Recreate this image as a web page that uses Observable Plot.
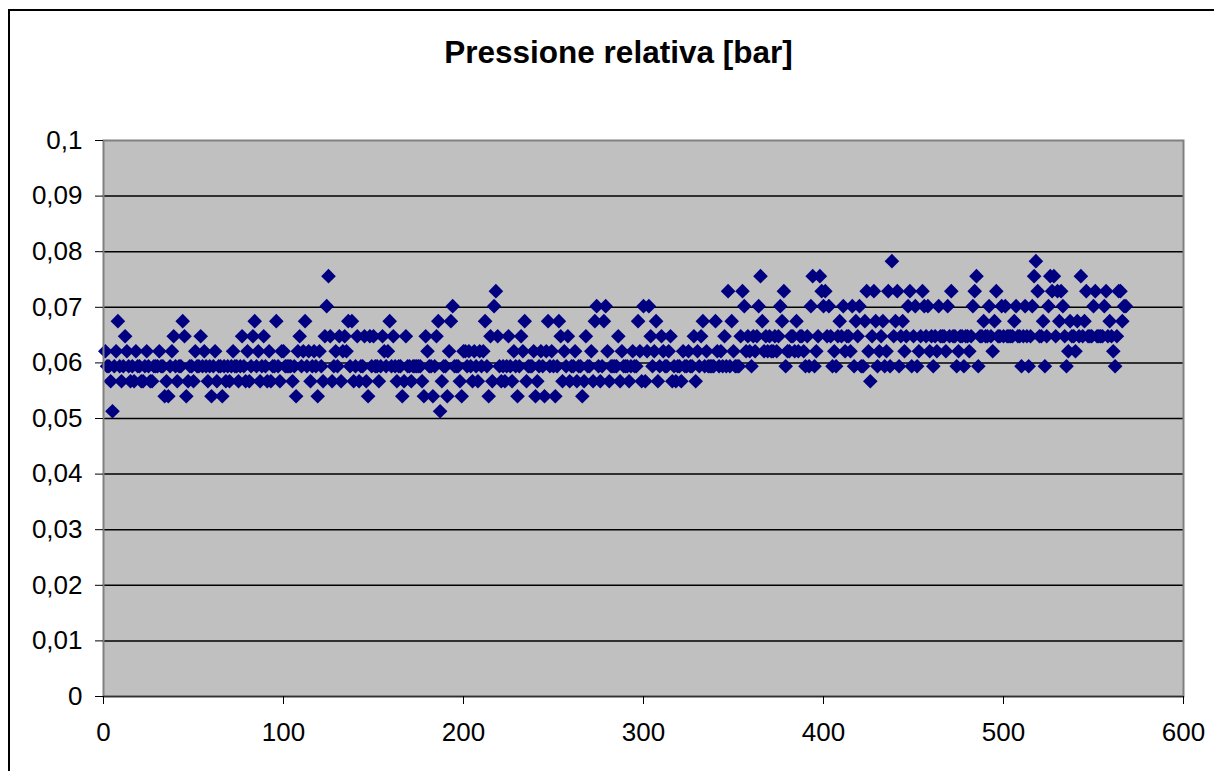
<!DOCTYPE html>
<html>
<head>
<meta charset="utf-8">
<script src="https://cdn.jsdelivr.net/npm/d3@7"></script>
<script src="https://cdn.jsdelivr.net/npm/@observablehq/plot@0.6"></script>
<style>
  html, body { margin: 0; padding: 0; background: #fff; }
  #chart { position: relative; width: 1214px; height: 771px; overflow: hidden;
           font-family: "Liberation Sans", Arial, sans-serif; }
  #border { position: absolute; left: 8px; top: 9px; width: 1300px; height: 900px;
            border: 2px solid #000; box-sizing: border-box; }
  #title { position: absolute; left: 0; top: 37px; width: 1237px; text-align: center;
           font-size: 31.5px; line-height: 31.5px; font-weight: bold; color: #000; }
  #plot { position: absolute; left: 0; top: 100px; }
</style>
</head>
<body>
<div id="chart">
  <div id="border"></div>
  <div id="title">Pressione relativa [bar]</div>
  <div id="plot"></div>
</div>
<script>
// Relative pressure readings [bar], one per sample (samples 1..568)
const pressure = [
  0.0621, 0.0594, 0.0594, 0.0567, 0.0513, 0.0594, 0.0621, 0.0675, 0.0594, 0.0567,
  0.0594, 0.0648, 0.0621, 0.0594, 0.0567, 0.0594, 0.0567, 0.0621, 0.0594, 0.0594,
  0.0567, 0.0567, 0.0594, 0.0621, 0.0594, 0.0567, 0.0567, 0.0594, 0.0594, 0.0594,
  0.0621, 0.0594, 0.0594, 0.054, 0.0567, 0.054, 0.0594, 0.0621, 0.0648, 0.0594,
  0.0567, 0.0594, 0.0594, 0.0675, 0.0648, 0.054, 0.0567, 0.0594, 0.0594, 0.0567,
  0.0621, 0.0594, 0.0594, 0.0648, 0.0594, 0.0621, 0.0594, 0.0567, 0.0594, 0.054,
  0.0594, 0.0621, 0.0567, 0.0594, 0.0594, 0.054, 0.0594, 0.0567, 0.0594, 0.0567,
  0.0594, 0.0621, 0.0594, 0.0594, 0.0567, 0.0594, 0.0648, 0.0594, 0.0567, 0.0621,
  0.0567, 0.0594, 0.0648, 0.0675, 0.0594, 0.0621, 0.0567, 0.0594, 0.0648, 0.0594,
  0.0567, 0.0621, 0.0567, 0.0594, 0.0594, 0.0675, 0.0594, 0.0567, 0.0621, 0.0621,
  0.0594, 0.0594, 0.0594, 0.0594, 0.0567, 0.0594, 0.054, 0.0621, 0.0648, 0.0594,
  0.0621, 0.0675, 0.0594, 0.0621, 0.0567, 0.0594, 0.0621, 0.0594, 0.054, 0.0621,
  0.0594, 0.0567, 0.0648, 0.0702, 0.0756, 0.0648, 0.0567, 0.0594, 0.0621, 0.0594,
  0.0648, 0.0567, 0.0621, 0.0648, 0.0621, 0.0675, 0.0594, 0.0675, 0.0567, 0.0594,
  0.0648, 0.0567, 0.0594, 0.0594, 0.0648, 0.0567, 0.054, 0.0648, 0.0594, 0.0648,
  0.0594, 0.0594, 0.0567, 0.0594, 0.0648, 0.0621, 0.0594, 0.0621, 0.0675, 0.0594,
  0.0648, 0.0594, 0.0567, 0.0594, 0.0594, 0.054, 0.0567, 0.0648, 0.0594, 0.0594,
  0.0567, 0.0594, 0.0594, 0.0594, 0.0594, 0.0594, 0.0567, 0.054, 0.0648, 0.0621,
  0.0594, 0.0594, 0.054, 0.0594, 0.0648, 0.0675, 0.0513, 0.0567, 0.0594, 0.0594,
  0.054, 0.0621, 0.0675, 0.0702, 0.0594, 0.0594, 0.0594, 0.0567, 0.054, 0.0621,
  0.0621, 0.0594, 0.0621, 0.0594, 0.0567, 0.0621, 0.0594, 0.0567, 0.0621, 0.0594,
  0.0621, 0.0675, 0.0594, 0.054, 0.0648, 0.0567, 0.0702, 0.0729, 0.0648, 0.0594,
  0.0567, 0.0594, 0.0567, 0.0594, 0.0648, 0.0594, 0.0567, 0.0621, 0.0594, 0.054,
  0.0594, 0.0648, 0.0621, 0.0675, 0.0567, 0.0594, 0.0594, 0.0594, 0.0621, 0.054,
  0.0567, 0.0594, 0.0621, 0.0594, 0.054, 0.0621, 0.0675, 0.0594, 0.0621, 0.0594,
  0.054, 0.0594, 0.0675, 0.0648, 0.0567, 0.0621, 0.0594, 0.0648, 0.0567, 0.0594,
  0.0594, 0.0621, 0.0567, 0.0594, 0.0594, 0.054, 0.0567, 0.0648, 0.0594, 0.0594,
  0.0621, 0.0567, 0.0675, 0.0702, 0.0594, 0.0567, 0.0594, 0.0675, 0.0702, 0.0621,
  0.0567, 0.0594, 0.0594, 0.0594, 0.0594, 0.0648, 0.0567, 0.0621, 0.0594, 0.0594,
  0.0594, 0.0567, 0.0594, 0.0621, 0.0594, 0.0594, 0.0675, 0.0621, 0.0567, 0.0702,
  0.0567, 0.0621, 0.0702, 0.0648, 0.0594, 0.0621, 0.0675, 0.0567, 0.0594, 0.0648,
  0.0621, 0.0594, 0.0594, 0.0621, 0.0648, 0.0567, 0.0594, 0.0567, 0.0594, 0.0594,
  0.0567, 0.0621, 0.0594, 0.0594, 0.0621, 0.0594, 0.0594, 0.0648, 0.0567, 0.0621,
  0.0594, 0.0648, 0.0675, 0.0594, 0.0621, 0.0594, 0.0594, 0.0594, 0.0594, 0.0675,
  0.0621, 0.0594, 0.0621, 0.0594, 0.0648, 0.0594, 0.0729, 0.0594, 0.0675, 0.0621,
  0.0594, 0.0594, 0.0594, 0.0648, 0.0729, 0.0702, 0.0621, 0.0648, 0.0621, 0.0594,
  0.0648, 0.0621, 0.0648, 0.0702, 0.0756, 0.0675, 0.0621, 0.0648, 0.0621, 0.0648,
  0.0621, 0.0621, 0.0648, 0.0621, 0.0648, 0.0702, 0.0675, 0.0729, 0.0594, 0.0621,
  0.0621, 0.0648, 0.0648, 0.0621, 0.0675, 0.0621, 0.0648, 0.0648, 0.0621, 0.0594,
  0.0648, 0.0594, 0.0702, 0.0756, 0.0594, 0.0621, 0.0648, 0.0756, 0.0729, 0.0702,
  0.0729, 0.0648, 0.0702, 0.0648, 0.0594, 0.0621, 0.0594, 0.0648, 0.0675, 0.0648,
  0.0702, 0.0621, 0.0648, 0.0648, 0.0621, 0.0702, 0.0594, 0.0675, 0.0648, 0.0702,
  0.0594, 0.0594, 0.0675, 0.0729, 0.0621, 0.0567, 0.0648, 0.0729, 0.0675, 0.0594,
  0.0621, 0.0648, 0.0675, 0.0594, 0.0621, 0.0729, 0.0594, 0.0783, 0.0648, 0.0675,
  0.0729, 0.0594, 0.0648, 0.0675, 0.0621, 0.0648, 0.0702, 0.0729, 0.0594, 0.0648,
  0.0702, 0.0594, 0.0621, 0.0648, 0.0729, 0.0702, 0.0648, 0.0702, 0.0621, 0.0648,
  0.0594, 0.0648, 0.0621, 0.0702, 0.0648, 0.0648, 0.0648, 0.0621, 0.0702, 0.0648,
  0.0729, 0.0648, 0.0648, 0.0594, 0.0621, 0.0648, 0.0648, 0.0594, 0.0648, 0.0648,
  0.0621, 0.0648, 0.0702, 0.0729, 0.0756, 0.0594, 0.0648, 0.0648, 0.0675, 0.0648,
  0.0648, 0.0702, 0.0648, 0.0621, 0.0675, 0.0729, 0.0648, 0.0648, 0.0702, 0.0648,
  0.0702, 0.0648, 0.0648, 0.0648, 0.0648, 0.0675, 0.0702, 0.0648, 0.0648, 0.0594,
  0.0648, 0.0702, 0.0648, 0.0594, 0.0648, 0.0702, 0.0756, 0.0783, 0.0729, 0.0648,
  0.0648, 0.0675, 0.0594, 0.0648, 0.0702, 0.0756, 0.0729, 0.0756, 0.0648, 0.0729,
  0.0675, 0.0729, 0.0702, 0.0648, 0.0594, 0.0621, 0.0675, 0.0648, 0.0648, 0.0621,
  0.0675, 0.0648, 0.0756, 0.0648, 0.0675, 0.0729, 0.0648, 0.0648, 0.0648, 0.0702,
  0.0729, 0.0648, 0.0648, 0.0648, 0.0648, 0.0702, 0.0729, 0.0648, 0.0675, 0.0648,
  0.0621, 0.0594, 0.0648, 0.0729, 0.0729, 0.0675, 0.0702, 0.0702
];

// Axis ticks and their labels (decimal comma)
const xTicks = [0, 100, 200, 300, 400, 500, 600];
const xTickLabels = ["0", "100", "200", "300", "400", "500", "600"];
const yTicks = [0, 0.01, 0.02, 0.03, 0.04, 0.05, 0.06, 0.07, 0.08, 0.09, 0.1];
const yTickLabels = ["0", "0,01", "0,02", "0,03", "0,04", "0,05", "0,06", "0,07", "0,08", "0,09", "0,1"];
const gridLines = [0.01, 0.02, 0.03, 0.04, 0.05, 0.06, 0.07, 0.08, 0.09];

const chart = Plot.plot({
  width: 1214,
  height: 671,
  marginLeft: 103,
  marginRight: 31,
  marginTop: 40,
  marginBottom: 75,
  style: {
    fontFamily: '"Liberation Sans", Arial, sans-serif',
    fontSize: "26px",
    color: "#000",
    background: "transparent",
    overflow: "visible"
  },
  x: {domain: [0, 600]},
  y: {domain: [0, 0.1]},
  marks: [
    Plot.frame({fill: "#c0c0c0", stroke: null}),
    Plot.ruleY(gridLines, {stroke: "#000", strokeWidth: 1.5}),
    Plot.dot(pressure, {
      x: (d, i) => i + 1,
      y: d => d,
      symbol: "diamond2",
      r: 6.6,
      fill: "#000080",
      stroke: "none"
    }),
    Plot.frame({stroke: "#808080", strokeWidth: 2}),
    Plot.ruleY([0], {stroke: "#303030", strokeWidth: 1.5}),
    Plot.axisX({
      ticks: xTicks,
      tickFormat: d => xTickLabels[xTicks.indexOf(d)],
      tickSize: 8,
      tickPadding: 18,
      label: null,
      stroke: "#000"
    }),
    Plot.axisY({
      ticks: yTicks,
      tickFormat: d => yTickLabels[yTicks.indexOf(d)],
      tickSize: 8,
      tickPadding: 13,
      label: null,
      stroke: "#000"
    })
  ]
});

document.getElementById("plot").appendChild(chart);
</script>
</body>
</html>
